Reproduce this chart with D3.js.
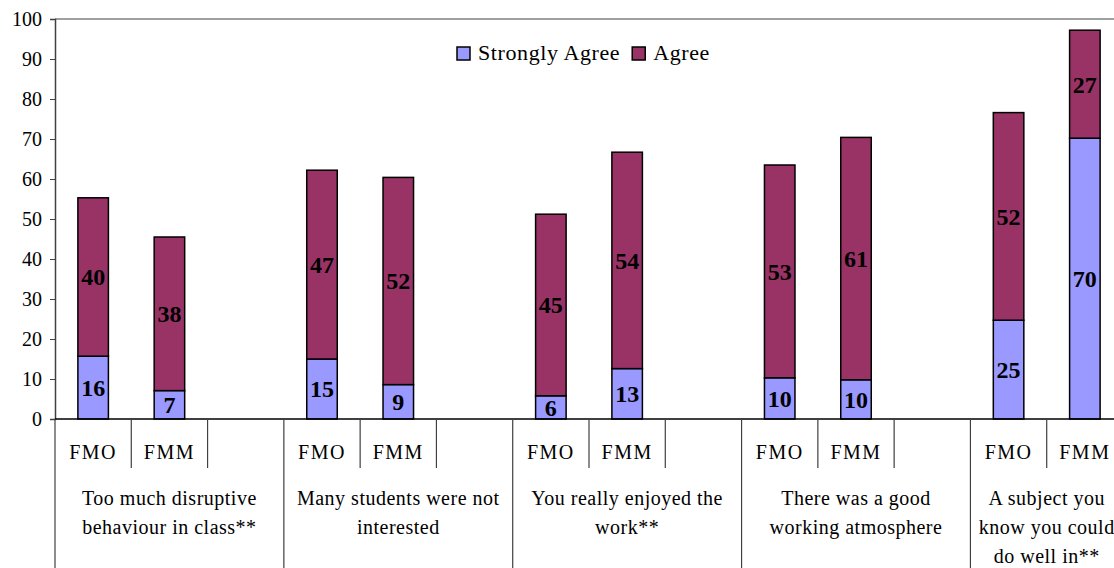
<!DOCTYPE html>
<html lang="en">
<head>
<meta charset="utf-8">
<title>Strongly Agree / Agree</title>
<script src="https://cdn.jsdelivr.net/npm/d3@7"></script>
<style>
  body { margin: 0; background: #fff; }
  text { font-family: "Liberation Serif", "Times New Roman", serif; fill: #000; }
</style>
</head>
<body>
<script>
// data
var categories = ["FMO", "FMM"];
var groups = [
  ["Too much disruptive", "behaviour in class**"],
  ["Many students were not", "interested"],
  ["You really enjoyed the", "work**"],
  ["There was a good", "working atmosphere"],
  ["A subject you", "know you could", "do well in**"]
];
var stronglyAgree = [15.7, 7.1, 15.0, 8.6, 5.8, 12.6, 10.3, 9.8, 24.7, 70.2];
var agree = [39.6, 38.4, 47.2, 51.8, 45.4, 54.1, 53.2, 60.6, 51.9, 27.0];
var yTicks = [0, 10, 20, 30, 40, 50, 60, 70, 80, 90, 100];
var seriesNames = ["Strongly Agree", "Agree"];
var colors = ["#9999FF", "#993366"];

var width = 1114, height = 568;
// plot box (window.top is taken, so prefixed names)
var plotLeft = 55, plotRight = 1123, plotTop = 19, plotBottom = 419;

var svg = d3.select("body").append("svg")
  .attr("width", width)
  .attr("height", height);

// every group has FMO, FMM and an empty slot, the last one has no empty slot
var slots = [];
groups.forEach(function (g, gi) {
  categories.forEach(function (c) { slots.push(gi + "-" + c); });
  if (gi < groups.length - 1) slots.push(gi + "-blank");
});

var x = d3.scaleBand()
  .domain(slots)
  .range([plotLeft, plotRight])
  .paddingInner(0.6)
  .paddingOuter(0.3);

var step = x.step();

var y = d3.scaleLinear()
  .domain([0, 100])
  .range([plotBottom, plotTop]);

// top border of plot
svg.append("line")
  .attr("x1", plotLeft).attr("x2", width)
  .attr("y1", y(100)).attr("y2", y(100))
  .attr("stroke", "#808080").attr("stroke-width", 1.5);

// y axis
var yAxis = svg.append("g")
  .attr("transform", "translate(" + plotLeft + ",0)")
  .call(d3.axisLeft(y).tickValues(yTicks).tickSize(5).tickPadding(8));
yAxis.select(".domain").attr("stroke", "#404040").attr("stroke-width", 1.5);
yAxis.selectAll(".tick line").attr("stroke", "#404040");
yAxis.selectAll("text")
  .style("font-family", '"Liberation Serif", serif')
  .style("font-size", "20px")
  .attr("fill", "#000");

// bar data
var bars = [];
groups.forEach(function (g, gi) {
  categories.forEach(function (c, ci) {
    var i = gi * categories.length + ci;
    bars.push({ slot: gi + "-" + c, sa: stronglyAgree[i], ag: agree[i] });
  });
});

var segs = [];
bars.forEach(function (b) {
  segs.push({ slot: b.slot, y0: 0, y1: b.sa, s: 0 });
  segs.push({ slot: b.slot, y0: b.sa, y1: b.sa + b.ag, s: 1 });
});

svg.append("g").selectAll("rect")
  .data(segs)
  .enter().append("rect")
  .attr("x", function (d) { return x(d.slot); })
  .attr("width", x.bandwidth())
  .attr("y", function (d) { return y(d.y1); })
  .attr("height", function (d) { return y(d.y0) - y(d.y1); })
  .attr("fill", function (d) { return colors[d.s]; })
  .attr("stroke", "#000")
  .attr("stroke-width", 1.5);

svg.append("g").selectAll("text")
  .data(segs)
  .enter().append("text")
  .attr("x", function (d) { return x(d.slot) + x.bandwidth() / 2; })
  .attr("y", function (d) { return y((d.y0 + d.y1) / 2); })
  .attr("dy", "0.35em")
  .attr("text-anchor", "middle")
  .style("font-size", "24px")
  .style("font-weight", "bold")
  .text(function (d) { return d3.format(".0f")(d.y1 - d.y0); });

// baseline
svg.append("line")
  .attr("x1", plotLeft).attr("x2", width)
  .attr("y1", y(0)).attr("y2", y(0))
  .attr("stroke", "#000").attr("stroke-width", 1.5);

// category dividers and labels
var catG = svg.append("g");
slots.forEach(function (s, si) {
  var x0 = plotLeft + si * step;
  var isGroupStart = s.indexOf("-" + categories[0]) > 0;
  catG.append("line")
    .attr("x1", x0).attr("x2", x0)
    .attr("y1", y(0)).attr("y2", isGroupStart ? height : y(0) + 49)
    .attr("stroke", "#404040").attr("stroke-width", 1.2);
  var name = s.split("-")[1];
  if (name !== "blank") {
    catG.append("text")
      .attr("x", x0 + step / 2)
      .attr("y", 459)
      .attr("text-anchor", "middle")
      .style("font-size", "20px")
      .style("letter-spacing", "1.5px")
      .text(name);
  }
});

// group labels
var gStart = 0;
groups.forEach(function (g, gi) {
  var n = gi < groups.length - 1 ? categories.length + 1 : categories.length;
  var cx = plotLeft + (gStart + n / 2) * step;
  gStart += n;
  var t = svg.append("text")
    .attr("text-anchor", "middle")
    .style("font-size", "20px")
    .style("letter-spacing", "0.5px");
  g.forEach(function (line, li) {
    t.append("tspan")
      .attr("x", cx)
      .attr("y", 505 + li * 29)
      .text(line);
  });
});

// legend
var legend = svg.append("g").attr("transform", "translate(457,47)");
var lx = 0;
seriesNames.forEach(function (name, i) {
  legend.append("rect")
    .attr("x", lx).attr("y", 0)
    .attr("width", 13).attr("height", 13)
    .attr("fill", colors[i])
    .attr("stroke", "#000").attr("stroke-width", 1.5);
  var t = legend.append("text")
    .attr("x", lx + 21).attr("y", 12.5)
    .style("font-size", "22px")
    .style("letter-spacing", "0.6px")
    .text(name);
  lx += 21 + t.node().getComputedTextLength() + 12;
});
</script>
</body>
</html>
